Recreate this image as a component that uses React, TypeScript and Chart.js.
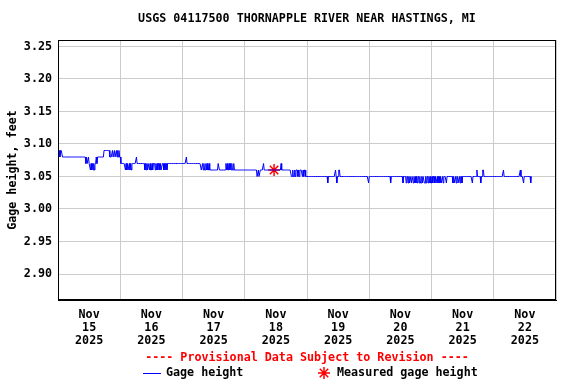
import React, { useEffect, useRef } from "react";
import { Chart, registerables } from "chart.js";

Chart.register(...registerables);

const TITLE = "USGS 04117500 THORNAPPLE RIVER NEAR HASTINGS, MI";
const Y_TITLE = "Gage height, feet";
const PROVISIONAL = "---- Provisional Data Subject to Revision ----";
const LEGEND_GAGE = "Gage height";
const LEGEND_MEASURED = "Measured gage height";

// x axis: hours since Nov 15 2025 00:00, labels at noon of each day
const dayLabels = [
  ["Nov", "15", "2025"],
  ["Nov", "16", "2025"],
  ["Nov", "17", "2025"],
  ["Nov", "18", "2025"],
  ["Nov", "19", "2025"],
  ["Nov", "20", "2025"],
  ["Nov", "21", "2025"],
  ["Nov", "22", "2025"],
];
const yTicks = [2.9, 2.95, 3.0, 3.05, 3.1, 3.15, 3.2, 3.25];

// 15-minute gage height readings, each digit = hundredths of a foot above 3.00 ft,
// one 4-reading group per hour.
const nov15 = [
  "9998", "9998", "8888", "8888", "8888", "8888", "8888", "8888", "8888", "8888",
  "8887", "8778", "7767", "6767", "6778", "7888", "8888", "8889", "9999", "9999",
  "8888", "9889", "8898", "9898",
];
const nov16 = [
  "8777", "7777", "6767", "6676", "7677", "7777", "7877", "7777", "7777", "7767",
  "6767", "7676", "6767", "7767", "6767", "7676", "6776", "7677", "6777", "7777",
  "7777", "7777", "7777", "7777",
];
const nov17 = [
  "7777", "7787", "7777", "7777", "7777", "7777", "7777", "7667", "6766", "7676",
  "6766", "6666", "6666", "6667", "7666", "6666", "6667", "6766", "7676", "7667",
  "6666", "6666", "6666", "6666",
];
const nov18 = [
  "6666", "6666", "6666", "6666", "6665", "5655", "6666", "6766", "6666", "6666",
  "6666", "6666", "6666", "6666", "7666", "6666", "6666", "6666", "5565", "5656",
  "6656", "5666", "6565", "6655",
];
const nov19 = [
  "5555", "5555", "5555", "5555", "5555", "5555", "5555", "5555", "4555", "5555",
  "5555", "6545", "5665", "5555", "5555", "5555", "5555", "5555", "5555", "5555",
  "5555", "5555", "5555", "5554",
];
const nov20 = [
  "5555", "5555", "5555", "5555", "5555", "5555", "5555", "5555", "5455", "5555",
  "5555", "5555", "5555", "4555", "5455", "4545", "5455", "4545", "4545", "5454",
  "4545", "5445", "4554", "5454",
];
const nov21 = [
  "4545", "5454", "4545", "5454", "4545", "5554", "5555", "5555", "5454", "4545",
  "5445", "4554", "5555", "5555", "5555", "5554", "5555", "5565", "5555", "4556",
  "6555", "5555", "5555", "5555",
];
const nov22 = [
  "5555", "5555", "5555", "5556", "5555", "5555", "5555", "5555", "5555", "5555",
  "5655", "5545", "5555", "5555", "545",
];
const dailyReadings = [nov15, nov16, nov17, nov18, nov19, nov20, nov21, nov22];

// field measurement
const measuredHours = [83.3];
const measuredValues = [3.06];

const FONT_FAMILY = "'DejaVu Sans Mono', monospace";
const FONT_SIZE = 11.7;

const gageData = dailyReadings.flatMap((hours, d) =>
  hours
    .join("")
    .split("")
    .map((c, i) => ({ x: d * 24 + i * 0.25, y: 3 + Number(c) / 100 }))
);
const measuredData = measuredHours.map((h, i) => ({ x: h, y: measuredValues[i] }));

const decorPlugin = {
  id: "decor",
  afterDraw(chart: any) {
    const { ctx, chartArea: ca } = chart;
    ctx.save();
    // frame
    ctx.strokeStyle = "#000";
    ctx.lineWidth = 1;
    ctx.strokeRect(ca.left + 0.5, ca.top + 0.5, ca.right - ca.left - 1, ca.bottom - ca.top - 1);

    const cx = (ca.left + ca.right) / 2;
    ctx.font = `bold ${FONT_SIZE}px ${FONT_FAMILY}`;
    ctx.textBaseline = "middle";
    // title
    ctx.fillStyle = "#000";
    ctx.textAlign = "center";
    ctx.fillText(TITLE, cx, 19);
    // provisional
    ctx.fillStyle = "#ff0000";
    ctx.fillText(PROVISIONAL, cx, 358);
    // legend
    const ly = 373;
    ctx.strokeStyle = "#0000ff";
    ctx.beginPath();
    ctx.moveTo(143, ly + 0.5);
    ctx.lineTo(161, ly + 0.5);
    ctx.stroke();
    ctx.fillStyle = "#000";
    ctx.textAlign = "left";
    ctx.fillText(LEGEND_GAGE, 166, ly);
    // asterisk
    const ax = 324, r = 6;
    ctx.strokeStyle = "#ff0000";
    ctx.lineWidth = 1.5;
    ctx.beginPath();
    for (let k = 0; k < 4; k++) {
      const a = (k * Math.PI) / 4;
      ctx.moveTo(ax + r * Math.cos(a), ly + r * Math.sin(a));
      ctx.lineTo(ax - r * Math.cos(a), ly - r * Math.sin(a));
    }
    ctx.stroke();
    ctx.fillText(LEGEND_MEASURED, 337, ly);
    ctx.restore();
  },
};

export default function App() {
  const ref = useRef<HTMLCanvasElement | null>(null);
  useEffect(() => {
    document.body.style.margin = "0";
    const font = { family: FONT_FAMILY, size: FONT_SIZE, weight: "bold" as const };
    const chart = new Chart(ref.current as HTMLCanvasElement, {
      type: "line",
      data: {
        datasets: [
          {
            label: LEGEND_GAGE,
            data: gageData,
            borderColor: "#0000ff",
            borderWidth: 1,
            pointRadius: 0,
            tension: 0,
            fill: false,
          },
          {
            label: LEGEND_MEASURED,
            type: "scatter",
            data: measuredData,
            pointStyle: "star",
            pointRadius: 6,
            borderColor: "#ff0000",
            backgroundColor: "#ff0000",
            borderWidth: 1.5,
            showLine: false,
          } as any,
        ],
      },
      options: {
        responsive: false,
        animation: false,
        layout: { padding: { top: 40, right: 20, left: 0, bottom: 0 } },
        plugins: {
          legend: { display: false },
          tooltip: { enabled: false },
        },
        scales: {
          x: {
            type: "linear",
            min: 0,
            max: dayLabels.length * 24,
            afterBuildTicks: (s: any) => {
              const t: any[] = [];
              for (let i = 0; i <= dayLabels.length * 2; i++) t.push({ value: i * 12 });
              s.ticks = t;
            },
            afterFit: (s: any) => {
              s.height = 84;
            },
            ticks: {
              autoSkip: false,
              maxRotation: 0,
              minRotation: 0,
              padding: 9,
              color: "#000",
              font: { ...font, lineHeight: 1.1 },
              callback: (v: any) => (Number(v) % 24 === 12 ? dayLabels[(Number(v) - 12) / 24] : ""),
            },
            grid: {
              drawTicks: false,
              lineWidth: 1,
              color: (c: any) => (c.tick && c.tick.value % 24 === 0 ? "#cccccc" : "rgba(0,0,0,0)"),
            },
            border: { display: true, color: "#000" },
          },
          y: {
            type: "linear",
            min: 2.86,
            max: 3.26,
            afterBuildTicks: (s: any) => {
              s.ticks = yTicks.map((v) => ({ value: v }));
            },
            afterFit: (s: any) => {
              s.width = 58;
            },
            ticks: {
              padding: 6,
              color: "#000",
              font,
              callback: (v: any) => Number(v).toFixed(2),
            },
            grid: { drawTicks: false, color: "#cccccc", lineWidth: 1 },
            border: { display: true, color: "#000" },
            title: {
              display: true,
              text: Y_TITLE,
              color: "#000",
              font,
              padding: { top: 6, bottom: 0 },
            },
          },
        },
      },
      plugins: [decorPlugin],
    });
    return () => chart.destroy();
  }, []);
  return <canvas ref={ref} width={576} height={384} style={{ display: "block" }} />;
}
